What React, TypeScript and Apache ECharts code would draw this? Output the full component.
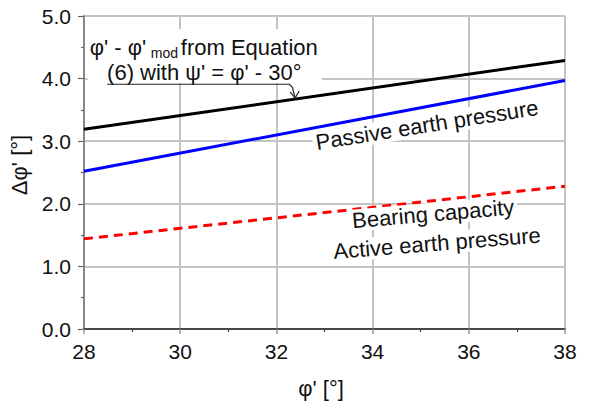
import React, { useEffect, useRef } from "react";
import * as echarts from "echarts";

const xRange = [28, 38];
const yRange = [0, 5];
const xTicks = [28, 30, 32, 34, 36, 38];
const yTicks = [0, 1, 2, 3, 4, 5];

const phiX = [28, 38];
const equationY = [3.19, 4.29];
const passiveY = [2.52, 3.97];
const bearingActiveY = [1.44, 2.28];

const FONT = "'Liberation Sans', Arial, sans-serif";

export default function App() {
  const ref = useRef<HTMLDivElement>(null);
  useEffect(() => {
    if (!ref.current) return;
    const chart = echarts.init(ref.current, undefined, { renderer: "svg" });
    const pair = (ys: number[]) => phiX.map((x, i) => [x, ys[i]]);
    chart.setOption({
      animation: false,
      backgroundColor: "#fff",
      grid: { left: 84, right: 24, top: 16, bottom: 74, containLabel: false },
      xAxis: {
        type: "value",
        min: xRange[0],
        max: xRange[1],
        interval: 2,
        axisLine: { show: true, onZero: false, lineStyle: { color: "#222", width: 1.5 } },
        axisTick: { show: true, inside: false, length: 5, lineStyle: { color: "#999", width: 1.5 } },
        minorTick: { show: true, splitNumber: 2, length: 3, lineStyle: { color: "#444", width: 1.2 } },
        splitLine: { show: true, lineStyle: { color: "#c4c4c4", width: 2 } },
        axisLabel: {
          margin: 12,
          fontSize: 21,
          color: "#111",
          fontFamily: FONT,
          formatter: (v: number) => (xTicks.includes(v) ? String(v) : ""),
        },
      },
      yAxis: {
        type: "value",
        min: yRange[0],
        max: yRange[1],
        interval: 1,
        axisLine: { show: true, onZero: false, lineStyle: { color: "#888", width: 2 } },
        axisTick: { show: true, inside: false, length: 6, lineStyle: { color: "#666", width: 1.2 } },
        minorTick: { show: true, splitNumber: 2, length: 3, lineStyle: { color: "#666", width: 1.2 } },
        splitLine: { show: true, lineStyle: { color: "#c4c4c4", width: 2 } },
        axisLabel: {
          margin: 13,
          fontSize: 21,
          color: "#111",
          fontFamily: FONT,
          formatter: (v: number) => (yTicks.includes(v) ? v.toFixed(1) : ""),
        },
      },
      series: [
        {
          name: "Equation (6)",
          type: "line",
          data: pair(equationY),
          symbol: "none",
          lineStyle: { color: "#000", width: 3 },
          z: 3,
        },
        {
          name: "Passive earth pressure",
          type: "line",
          data: pair(passiveY),
          symbol: "none",
          lineStyle: { color: "#0000ff", width: 3 },
          z: 3,
        },
        {
          name: "Bearing capacity / Active earth pressure",
          type: "line",
          data: pair(bearingActiveY),
          symbol: "none",
          lineStyle: { color: "#ff0000", width: 3, type: [9, 6] },
          z: 3,
        },
      ],
    });

    const px = (x: number, y: number) => chart.convertToPixel({ gridIndex: 0 }, [x, y]) as number[];
    const slope = (equationY[1] - equationY[0]) / (phiX[1] - phiX[0]);
    const tipX = 32.39;
    const tip = px(tipX, equationY[0] + slope * (tipX - phiX[0]));
    const ul0 = px(28.48, 3.91);
    const ul1 = px(32.27, 3.91);
    const t1 = px(28.12, 4.5);
    const t2 = px(28.48, 4.1);
    const passive = px(35.13, 3.26);
    const bearing = px(35.26, 1.84);
    const active = px(35.34, 1.37);

    const F = `22px ${FONT}`;
    const txt = (x: number, y: number, text: string, extra: any = {}) => ({
      type: "text",
      x,
      y,
      z: 100,
      style: {
        text,
        font: F,
        fill: "#111",
        align: "left",
        verticalAlign: "middle",
        ...extra,
      },
    });
    const rotText = (p: number[], text: string, rotation: number) => ({
      type: "text",
      x: p[0],
      y: p[1],
      rotation,
      z: 100,
      style: {
        text,
        font: F,
        fill: "#111",
        align: "center",
        verticalAlign: "middle",
        backgroundColor: "#fff",
        padding: [0, 3],
      },
    });

    chart.setOption({
      graphic: [
        {
          type: "rect",
          z: 90,
          shape: { x: t1[0] - 2, y: t1[1] - 18, width: 234, height: ul0[1] - (t1[1] - 18) - 1 },
          style: { fill: "#fff" },
        },
        txt(t1[0], t1[1], "φ' - φ'"),
        txt(t1[0] + 61, t1[1] + 6, "mod", { font: `14px ${FONT}` }),
        txt(t1[0] + 91, t1[1], "from Equation"),
        txt(t2[0], t2[1], "(6) with ψ' = φ' - 30°"),
        {
          type: "polyline",
          z: 101,
          shape: {
            points: [
              [ul0[0], ul0[1]],
              [ul1[0], ul1[1]],
              [ul1[0] + 3, ul1[1] + 3],
              [tip[0], tip[1] - 1],
            ],
          },
          style: { stroke: "#222", lineWidth: 1.2, fill: "none" },
        },
        {
          type: "polyline",
          z: 101,
          shape: {
            points: [
              [tip[0] - 5, tip[1] - 7],
              [tip[0], tip[1] - 1],
              [tip[0] + 4, tip[1] - 8],
            ],
          },
          style: { stroke: "#222", lineWidth: 1.2, fill: "none" },
        },
        rotText(passive, "Passive earth pressure", 0.157),
        rotText(bearing, "Bearing capacity", 0.085),
        rotText(active, "Active earth pressure", 0.08),
        {
          type: "text",
          x: 19,
          y: 165,
          rotation: Math.PI / 2,
          z: 100,
          style: {
            text: "Δφ' [°]",
            font: F,
            fill: "#111",
            align: "center",
            verticalAlign: "middle",
          },
        },
        {
          type: "text",
          x: 321,
          y: 388,
          z: 100,
          style: {
            text: "φ' [°]",
            font: F,
            fill: "#111",
            align: "center",
            verticalAlign: "middle",
          },
        },
      ],
    });
    return () => chart.dispose();
  }, []);
  return (
    <div
      ref={ref}
      style={{ position: "fixed", left: 0, top: 0, width: 589, height: 403, background: "#fff" }}
    />
  );
}
